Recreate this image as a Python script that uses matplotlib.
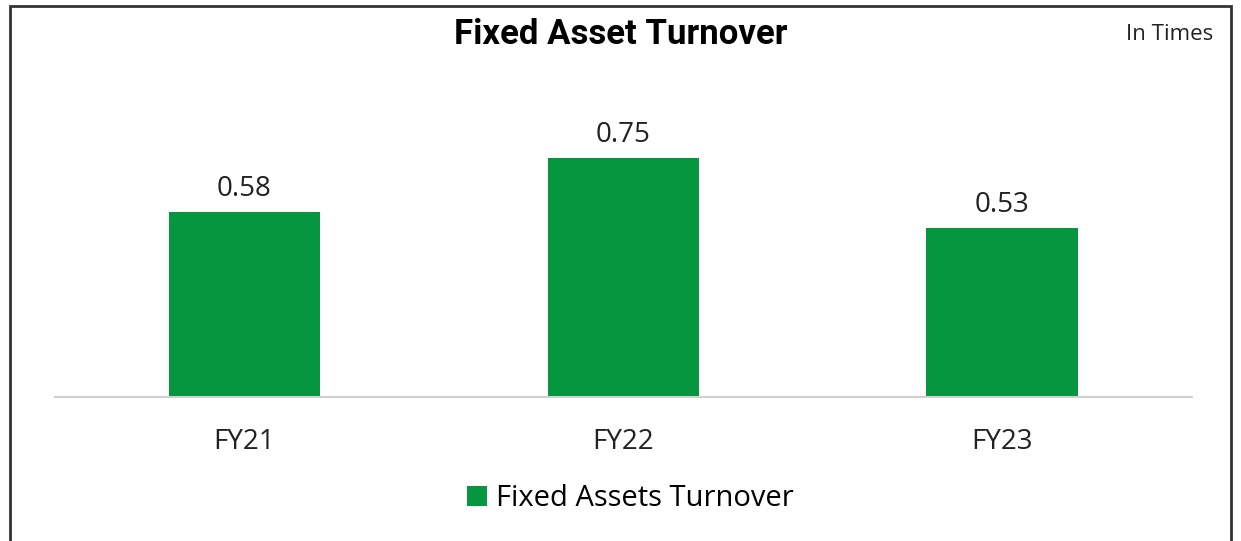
import matplotlib as mpl
mpl.use('Agg')
from matplotlib import pyplot as plt
from matplotlib.patches import Rectangle

years = ['FY21', 'FY22', 'FY23']
turnover = [0.58, 0.75, 0.53]

plt.rcParams['font.family'] = ['Open Sans', 'DejaVu Sans']
green = '#05963f'

fig = plt.figure(figsize=(12.41, 5.41), dpi=100)
ax = fig.add_axes([0.0443, 0.266, 0.916, 0.589])

x = range(len(years))
bars = ax.bar(x, turnover, width=0.4, color=green, label='Fixed Assets Turnover')
for xi, v in zip(x, turnover):
    ax.text(xi, v + 0.03, '%.2f' % v, ha='center', va='bottom', fontsize=20, color='#222222')

ax.set_xlim(-0.5, 2.5)
ax.set_ylim(0, 1.0)
ax.set_xticks(list(x))
ax.set_xticklabels(years, fontsize=20, color='#222222')
ax.tick_params(axis='x', length=0, pad=22)
ax.set_yticks([])
for s in ['top', 'right', 'left']:
    ax.spines[s].set_visible(False)
ax.spines['bottom'].set_color('#d0d0d0')
ax.spines['bottom'].set_linewidth(1.5)

fig.text(0.5, 0.937, 'Fixed Asset Turnover', ha='center', va='center',
         fontsize=25, fontweight='bold', family=['Roboto', 'DejaVu Sans'])
fig.text(0.978, 0.937, 'In Times', ha='right', va='center', fontsize=16, color='#222222')

leg = fig.legend(loc='center', bbox_to_anchor=(0.508, 0.078), frameon=False,
                 fontsize=21, handlelength=0.7, handleheight=0.7, handletextpad=0.3)

# outer frame
fig.patches.append(Rectangle((10 / 1241, -0.01), 1221 / 1241, 0.9985 - 5 / 541 + 0.01,
                             transform=fig.transFigure, fill=False,
                             edgecolor='#333333', linewidth=2))

fig.savefig('out.png', dpi=100)
plt.close()
